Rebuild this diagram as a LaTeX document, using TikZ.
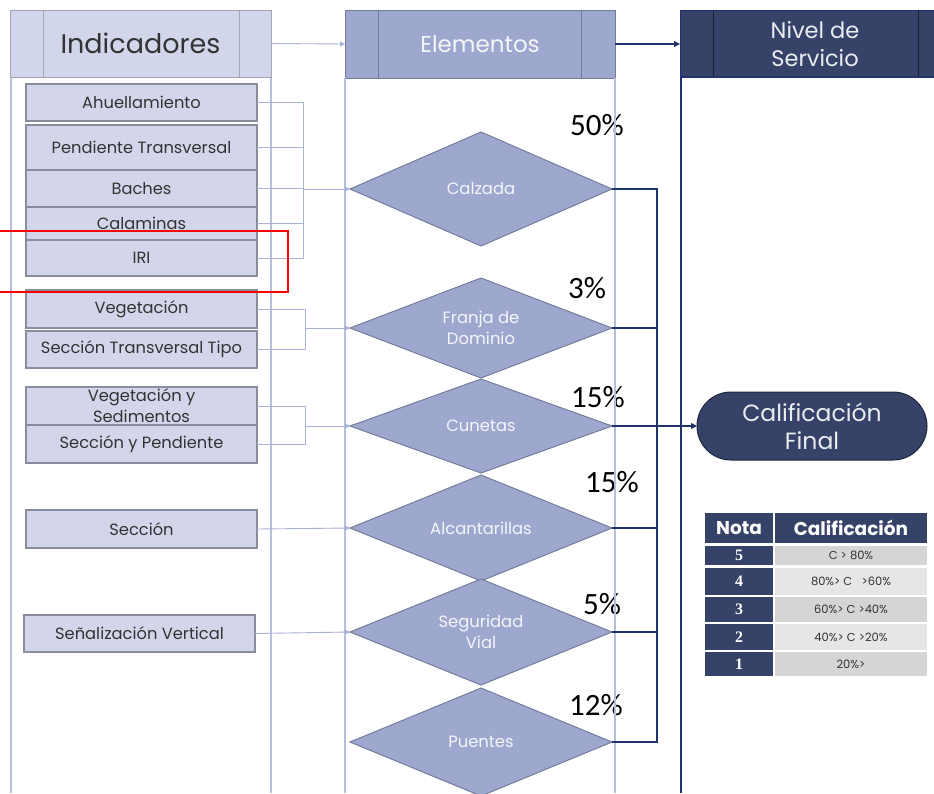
\documentclass[tikz,border=0pt]{standalone}
\usepackage{fontspec}
\setmainfont{Poppins}
\newfontfamily\pctfont{Carlito}
\newfontfamily\numfont{Liberation Serif}
\usetikzlibrary{shapes.geometric,arrows.meta}
\definecolor{hdrlight}{HTML}{D2D6EA}
\definecolor{hdrlightb}{HTML}{A3A7B5}
\definecolor{boxfill}{HTML}{D3D6EA}
\definecolor{boxline}{HTML}{8A8E9C}
\definecolor{colline}{HTML}{B6BEDE}
\definecolor{conlight}{HTML}{A9B3D8}
\definecolor{midfill}{HTML}{9EA8CE}
\definecolor{midline}{HTML}{737D9B}
\definecolor{navy}{HTML}{364268}
\definecolor{navyline}{HTML}{1F326E}
\definecolor{txtdark}{HTML}{333333}
\definecolor{cellA}{HTML}{D5D5D8}
\definecolor{cellB}{HTML}{E6E6E8}
\tikzset{
  indbox/.style={draw=boxline,line width=1.6pt,fill=boxfill,minimum width=231,minimum height=#1,inner sep=0,outer sep=0,text=txtdark,font=\fontsize{16.3}{18}\selectfont,align=center},
  dia/.style={diamond,aspect=2.5,draw=midline,line width=1pt,fill=midfill,minimum width=262,minimum height=#1,inner sep=0,outer sep=0,text=white!90!midfill,font=\fontsize{16.4}{21}\selectfont,align=center},
  pct/.style={font=\pctfont\fontsize{31}{31}\selectfont,text=black,inner sep=0},
  lconn/.style={draw=conlight,line width=0.9pt},
  larrow/.style={lconn,-{Triangle[length=5pt,width=5pt]}},
  nconn/.style={draw=navyline,line width=1.1pt},
  narrow/.style={nconn,-{Triangle[length=6pt,width=6pt]}},
}
\begin{document}
\begin{tikzpicture}[x=1pt,y=-1pt]
\clip (0,0) rectangle (934,793);
\fill[white] (0,0) rectangle (934,793);
% column lines
\draw[colline,line width=1.2pt] (11,77) -- (11,793) (271,77) -- (271,793);
\draw[navyline,line width=1.6pt] (681,77) -- (681,793);
% headers
\node[draw=hdrlightb,line width=1pt,fill=hdrlight,minimum width=261,minimum height=67,inner sep=0,outer sep=0,text=txtdark,font=\fontsize{27}{29}\selectfont] (hind) at (140.5,43.5) {Indicadores};
\draw[hdrlightb,line width=1pt] ([xshift=33]hind.north west) -- ([xshift=33]hind.south west)
  ([xshift=-32]hind.north east) -- ([xshift=-32]hind.south east);
\node[draw=midline,line width=1pt,fill=midfill,minimum width=270,minimum height=68,inner sep=0,outer sep=0,text=white!90!midfill,font=\fontsize{23}{25}\selectfont] (helem) at (480,44) {Elementos};
\draw[midline,line width=1pt] ([xshift=33]helem.north west) -- ([xshift=33]helem.south west)
  ([xshift=-34]helem.north east) -- ([xshift=-34]helem.south east);
\node[draw=navyline,line width=1pt,fill=navy,minimum width=270,minimum height=67,inner sep=0,outer sep=0,text=white!90!navy,align=center,font=\fontsize{22.5}{28}\selectfont] (hniv) at (815,44) {Nivel de\\Servicio};
\draw[black!50!navy,line width=1pt] ([xshift=33]hniv.north west) -- ([xshift=33]hniv.south west)
  (918,10) -- (918,77);
\draw[navyline,line width=1.6pt] (681,77) -- (934,77);
\draw[larrow] (hind.east) -- (helem.west);
\draw[narrow] (helem.east) -- (hniv.west);
% indicator boxes
\node[indbox=37] (ahu) at (141.5,102.5) {Ahuellamiento};
\node[indbox=45] (pen) at (141.5,147.5) {Pendiente Transversal};
\node[indbox=37] (bac) at (141.5,188.5) {Baches};
\node[indbox=33] (cal) at (141.5,223.5) {Calaminas};
\node[indbox=36] (iri) at (141.5,258) {IRI};
\node[indbox=38] (veg) at (141.5,309) {Vegetación};
\node[indbox=37] (stt) at (141.5,349.5) {Sección Transversal Tipo};
\node[indbox=38,font=\fontsize{16.3}{21}\selectfont] (vys) at (141.5,406) {Vegetación y\\Sedimentos};
\node[indbox=38] (syp) at (141.5,444) {Sección y Pendiente};
\node[indbox=38] (sec) at (141.5,529) {Sección};
\node[indbox=37] (sen) at (139.5,633.5) {Señalización Vertical};
% percentages
\node[pct] (p1) at (597,125) {50\%};
\node[pct] (p2) at (587,288) {3\%};
\node[pct] (p3) at (598,397) {15\%};
\node[pct] (p4) at (612,482) {15\%};
\node[pct] (p5) at (602,604) {5\%};
\node[pct] (p6) at (596,705) {12\%};
\draw[colline,line width=1.6pt] (345,78) -- (345,793) (615,78) -- (615,793);
% diamonds
\node[dia=114] (calz) at (481,189) {Calzada};
\node[dia=100] (fra) at (481,328) {Franja de\\Dominio};
\node[dia=94] (cun) at (481,426) {Cunetas};
\node[dia=106] (alc) at (481,528) {Alcantarillas};
\node[dia=106] (seg) at (481,632) {Seguridad\\Vial};
\node[dia=108] (pue) at (481,742) {Puentes};
% left connectors
\coordinate (lb) at (303,0);
\coordinate (lb2) at (305,0);
\draw[lconn] (ahu.east) -- (ahu.east -| lb) -- (iri.east -| lb) -- (iri.east);
\draw[lconn] (pen.east) -- (pen.east -| lb) (cal.east) -- (cal.east -| lb) (bac.east) -- (bac.east -| lb);
\draw[larrow] (calz.west -| lb) -- (calz.west);
\draw[lconn] (veg.east) -- (veg.east -| lb2) -- (stt.east -| lb2) -- (stt.east);
\draw[larrow] (fra.west -| lb2) -- (fra.west);
\draw[lconn] (vys.east) -- (vys.east -| lb2) -- (syp.east -| lb2) -- (syp.east);
\draw[larrow] (cun.west -| lb2) -- (cun.west);
\draw[larrow] (sec.east) -- (alc.west);
\draw[larrow] (sen.east) -- (seg.west);
% right connectors
\coordinate (rb) at (657,0);
\draw[nconn] (calz.east) -- (calz.east -| rb) -- (pue.east -| rb) -- (pue.east);
\draw[nconn] (fra.east) -- (fra.east -| rb) (alc.east) -- (alc.east -| rb) (seg.east) -- (seg.east -| rb);
% calificacion final
\node[rounded corners=34,draw=black!40!navy,line width=1pt,fill=navy,minimum width=230,minimum height=68,inner sep=0,outer sep=0,text=white!90!navy,align=center,font=\fontsize{23.5}{28}\selectfont] (cf) at (812,426) {Calificación\\Final};
\draw[narrow] (cun.east) -- (cf.west);
% table
\begin{scope}[every node/.style={inner sep=0,outer sep=0,anchor=north west}]
\node[fill=navy,minimum width=68,minimum height=30,text=white,font=\bfseries\fontsize{18.5}{18.5}\selectfont] (tn) at (705,513) {Nota};
\node[fill=navy,minimum width=152,minimum height=30,text=white,font=\bfseries\fontsize{18.5}{18.5}\selectfont] (tc) at (775,513) {Calificación};
\foreach \n/\t/\y/\h/\c in {5/{C > 80\%}/546/19/cellA, 4/{80\%> C \ \ >60\%}/568/27/cellB, 3/{60\%> C >40\%}/597/25/cellA, 2/{40\%> C >20\%}/624/26/cellB, 1/{20\%>}/652/24/cellA}{
  \node[fill=navy,minimum width=68,minimum height=\h,text=white,font=\numfont\bfseries\fontsize{16}{16}\selectfont] (tn\n) at (705,\y) {\n};
  \node[fill=\c,minimum width=152,minimum height=\h,text=black!80,font=\fontsize{11.5}{12}\selectfont] (tc\n) at (775,\y) {\t};
}
\end{scope}
% red highlight
\draw[red,line width=2pt] (-5,231) -- (288,231) -- (288,292) -- (-5,292);
\end{tikzpicture}
\end{document}
